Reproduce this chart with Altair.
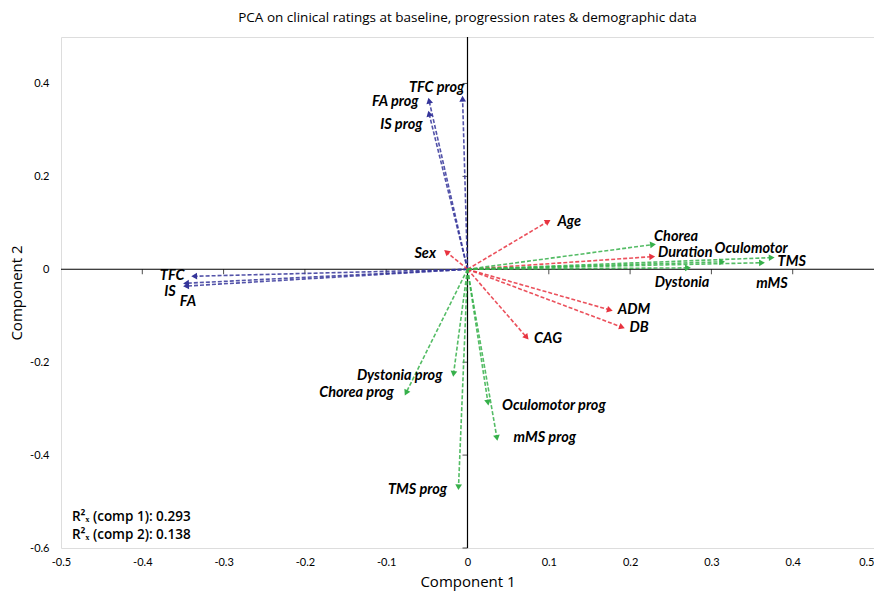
import math
import altair as alt
import pandas as pd

# ---- data ----
names = ["TFC prog", "FA prog", "IS prog", "TFC", "IS", "FA",
         "Sex", "Age", "Duration", "ADM", "DB", "CAG",
         "Chorea", "Oculomotor", "TMS", "mMS", "Dystonia",
         "Dystonia prog", "Chorea prog", "Oculomotor prog", "mMS prog", "TMS prog"]
comp1 = [-0.006, -0.047, -0.047, -0.335, -0.345, -0.345,
         -0.025, 0.098, 0.226, 0.174, 0.189, 0.072,
         0.227, 0.312, 0.373, 0.361, 0.270,
         -0.017, -0.075, 0.025, 0.036, -0.011]
comp2 = [0.365, 0.361, 0.333, -0.015, -0.030, -0.036,
         0.036, 0.102, 0.027, -0.087, -0.124, -0.145,
         0.053, 0.016, 0.025, 0.014, 0.003,
         -0.223, -0.264, -0.285, -0.361, -0.467]
group = ["blue"] * 6 + ["red"] * 6 + ["green"] * 10

# label offsets from arrow tips (pixels) - layout only
label_dx = [-26, -34, -28, -23, -17, 1,
            -22, 22, 34, 25, 18, 22,
            24, 30, 21, 11, -5,
            -54, -50, 66, 48, -41]
label_dy = [-12, 0, 10, 0, 9, 16,
            1, 0, -4, 0, 1, 2,
            -8, -13, 4, 21, 15,
            3, 1, 4, 1, 4]

x_ticks = [-0.5, -0.4, -0.3, -0.2, -0.1, 0, 0.1, 0.2, 0.3, 0.4, 0.5]
y_ticks = [-0.6, -0.4, -0.2, 0, 0.2, 0.4]
inner_x_ticks = [-0.4, -0.3, -0.2, -0.1, 0.1, 0.2, 0.3, 0.4]
inner_y_ticks = [-0.6, -0.4, -0.2, 0.2, 0.4]
r2_lines = ["R²ₓ (comp 1): 0.293", "R²ₓ (comp 2): 0.138"]

W, H = 813, 511
XD, YD = [-0.5, 0.5], [-0.6, 0.5]
px_x = W / (XD[1] - XD[0])
px_y = H / (YD[1] - YD[0])

df = pd.DataFrame({"name": names, "x": comp1, "y": comp2, "group": group,
                   "dx": label_dx, "dy": label_dy})
df["angle"] = [(math.degrees(math.atan2(a * px_x, b * px_y)) + 360) % 360
               for a, b in zip(comp1, comp2)]
df["x0"] = 0.0
df["y0"] = 0.0

color_scale = alt.Scale(domain=["blue", "red", "green"],
                        range=["#35359a", "#e8333f", "#36b04a"])

xs = alt.Scale(domain=XD, nice=False, zero=False)
ys = alt.Scale(domain=YD, nice=False, zero=False)

x_axis = alt.Axis(values=x_ticks, grid=False, ticks=False, domain=False,
                  labelFlush=False, labelOverlap=False,
                  labelAlign={"condition": {"test": "datum.value >= 0.5", "value": "right"},
                              "value": "center"},
                  labelExpr="toString(round(datum.value*10)/10)",
                  labelFont="Lato", labelFontSize=11, labelColor="black",
                  labelPadding=8, title="Component 1", titleFont="Open Sans",
                  titleFontSize=15, titleFontWeight="normal", titleColor="black",
                  titlePadding=7)
y_axis = alt.Axis(values=y_ticks, grid=False, ticks=False, domain=False,
                  labelFlush=False, labelOverlap=False,
                  labelExpr="toString(round(datum.value*10)/10)",
                  labelFont="Lato", labelFontSize=11, labelColor="black",
                  labelPadding=12, title="Component 2", titleFont="Open Sans",
                  titleFontSize=15, titleFontWeight="normal", titleColor="black",
                  titlePadding=5)

base = alt.Chart(df)

axes_holder = base.mark_point(opacity=0).encode(
    x=alt.X("x0:Q", scale=xs, axis=x_axis),
    y=alt.Y("y0:Q", scale=ys, axis=y_axis))

zero_v = alt.Chart(pd.DataFrame({"v": [0.0]})).mark_rule(color="black", strokeWidth=1.2).encode(
    x=alt.X("v:Q", scale=xs))
zero_h = alt.Chart(pd.DataFrame({"v": [0.0]})).mark_rule(color="black", strokeWidth=1.2).encode(
    y=alt.Y("v:Q", scale=ys))

xt = alt.Chart(pd.DataFrame({"t": inner_x_ticks, "z": 0.0})).mark_tick(
    orient="vertical", size=5, thickness=1, color="black", yOffset=2.5).encode(
    x=alt.X("t:Q", scale=xs), y=alt.Y("z:Q", scale=ys))
yt = alt.Chart(pd.DataFrame({"t": inner_y_ticks, "z": 0.0})).mark_tick(
    orient="horizontal", size=5, thickness=1, color="black", xOffset=-2.5).encode(
    y=alt.Y("t:Q", scale=ys), x=alt.X("z:Q", scale=xs))

shafts = base.mark_rule(strokeDash=[4, 2], strokeWidth=1.6, opacity=0.85).encode(
    x=alt.X("x0:Q", scale=xs), y=alt.Y("y0:Q", scale=ys),
    x2="x:Q", y2="y:Q",
    color=alt.Color("group:N", scale=color_scale, legend=None))

heads = base.mark_point(shape="triangle", filled=True, size=45, opacity=1).encode(
    x=alt.X("x:Q", scale=xs), y=alt.Y("y:Q", scale=ys),
    angle=alt.Angle("angle:Q", scale=None),
    color=alt.Color("group:N", scale=color_scale, legend=None))

labels = base.transform_calculate(
    lx=f"datum.x + datum.dx / {px_x}", ly=f"datum.y - datum.dy / {px_y}"
).mark_text(font="Lato", fontStyle="italic", fontWeight="bold", fontSize=14.5,
            color="black", align="center", baseline="middle").encode(
    x=alt.X("lx:Q", scale=xs), y=alt.Y("ly:Q", scale=ys), text="name:N")

r2_layers = []
for i, line in enumerate(r2_lines):
    r2_layers.append(
        alt.Chart(pd.DataFrame({"t": [line]})).mark_text(
            font="Open Sans", fontSize=13.5, color="black", align="left",
            baseline="middle", fontWeight=600).encode(
            x=alt.value(11), y=alt.value(480 + 18 * i), text="t:N"))

chart = alt.layer(axes_holder, zero_v, zero_h, xt, yt, shafts, heads, labels,
                  *r2_layers).properties(
    width=W, height=H,
    title=alt.TitleParams("PCA on clinical ratings at baseline, progression rates & demographic data",
                          font="Open Sans", fontSize=13.5, fontWeight="normal",
                          color="black", offset=12),
    autosize=alt.AutoSizeParams(type="none"),
    padding={"left": 53, "top": 29, "right": 0, "bottom": 50},
).configure_view(stroke="black", strokeWidth=1.2).configure(background="white")

chart.save("out.html", embed_options={"renderer": "svg", "actions": False})
